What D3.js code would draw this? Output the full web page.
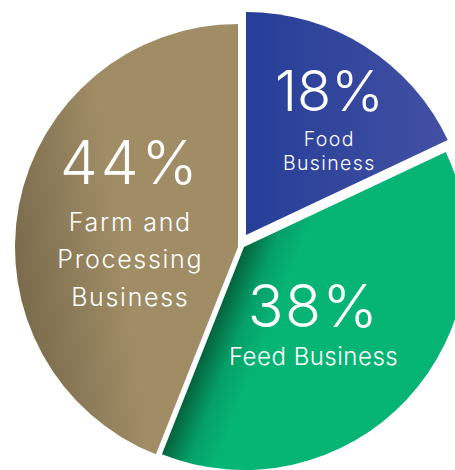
<!DOCTYPE html>
<html>
<head>
<meta charset="utf-8">
<script src="https://cdn.jsdelivr.net/npm/d3@7"></script>
<style>
  html, body { margin: 0; padding: 0; background: #fff; }
  svg { display: block; }
</style>
</head>
<body>
<script>
// data
var segments = ["Food Business", "Feed Business", "Farm and Processing Business"];
var shares = [18, 38, 44];
var labelLines = [["Food", "Business"], ["Feed Business"], ["Farm and", "Processing", "Business"]];

// size of the drawing
var width = 455,
    height = 470;
var cx = 242, cy = 241, radius = 223;

// how far each slice is pulled away from the middle
var shift = [[4, -6], [2, 6], [-4, 6]];

// where the text of each slice sits (angle in degrees, distance from the tip)
var labelPos = [
  { angle: 34, dist: 149, num: 56, numSp: 0, txt: 19.5, txtSp: 1.4, first: 35, gap: 24 },
  { angle: 139, dist: 106, num: 59, numSp: 1.5, txt: 24, txtSp: 0.5, first: 38, gap: 24 },
  { angle: 300.5, dist: 125, num: 60, numSp: 3, txt: 25, txtSp: 1.7, first: 47, gap: 37.5 }
];

var svg = d3.select("body").append("svg")
    .attr("width", width)
    .attr("height", height);

var pie = d3.pie().sort(null).value(function(d) { return d; });
var arcs = pie(shares);

var arc = d3.arc()
    .innerRadius(0)
    .outerRadius(radius);

var defs = svg.append("defs");

// blue: darker on the left
var gBlue = defs.append("linearGradient")
    .attr("id", "grad0")
    .attr("gradientUnits", "userSpaceOnUse")
    .attr("x1", 0).attr("y1", 0)
    .attr("x2", radius).attr("y2", 0);
gBlue.append("stop").attr("offset", 0).attr("stop-color", "#263e98");
gBlue.append("stop").attr("offset", 1).attr("stop-color", "#4552a4");

// green: shadow along the edge next to the tan slice
var a = arcs[1].endAngle;
var nx = -Math.cos(a), ny = -Math.sin(a);
var gGreen = defs.append("linearGradient")
    .attr("id", "grad1")
    .attr("gradientUnits", "userSpaceOnUse")
    .attr("x1", 0).attr("y1", 0)
    .attr("x2", nx * 55).attr("y2", ny * 55);
gGreen.append("stop").attr("offset", 0).attr("stop-color", "#03633c");
gGreen.append("stop").attr("offset", 0.5).attr("stop-color", "#05a068");
gGreen.append("stop").attr("offset", 1).attr("stop-color", "#06b574");

// tan: darker toward the left rim
var gTan = defs.append("linearGradient")
    .attr("id", "grad2")
    .attr("gradientUnits", "userSpaceOnUse")
    .attr("x1", -radius).attr("y1", 0)
    .attr("x2", -120).attr("y2", -15);
gTan.append("stop").attr("offset", 0).attr("stop-color", "#7b6c4d");
gTan.append("stop").attr("offset", 1).attr("stop-color", "#a08d66");

var slices = svg.selectAll("g.slice")
    .data(arcs)
  .enter().append("g")
    .attr("class", "slice")
    .attr("transform", function(d, i) {
      return "translate(" + (cx + shift[i][0]) + "," + (cy + shift[i][1]) + ")";
    });

slices.append("path")
    .attr("d", arc)
    .attr("fill", function(d, i) { return "url(#grad" + i + ")"; });

// labels
slices.each(function(d, i) {
  var p = labelPos[i];
  var t = p.angle * Math.PI / 180;
  var x = Math.sin(t) * p.dist,
      y = -Math.cos(t) * p.dist;
  var g = d3.select(this).append("g")
      .attr("transform", "translate(" + x + "," + y + ")")
      .attr("text-anchor", "middle")
      .attr("fill", "#fff")
      .attr("font-family", "Inter, 'Open Sans', sans-serif");

  g.append("text")
      .attr("y", 0)
      .attr("font-size", p.num)
      .attr("font-weight", 300)
      .attr("letter-spacing", p.numSp)
      .text(shares[i] + "%");

  labelLines[i].forEach(function(line, j) {
    g.append("text")
        .attr("y", p.first + j * p.gap)
        .attr("font-size", p.txt)
        .attr("font-weight", 300)
        .attr("letter-spacing", p.txtSp)
        .text(line);
  });
});
</script>
</body>
</html>
